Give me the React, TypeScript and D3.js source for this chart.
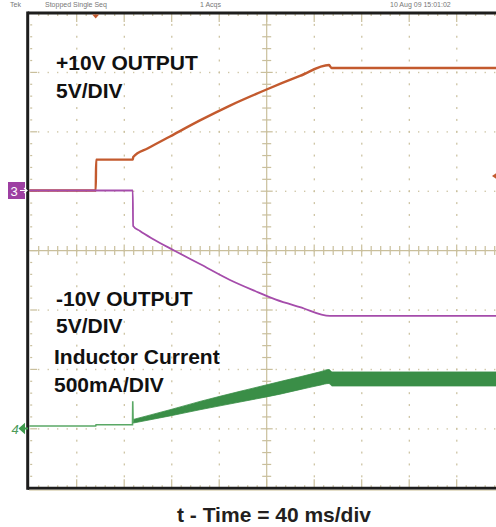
import React from "react";
import * as d3 from "d3";

// ---------- data ----------
// +10V output (orange), time in ms, volts
const posTime = [0, 56, 56.4, 87.2, 87.6, 100, 118.6, 143.8, 169.1, 199.4, 228, 252.5, 254.5, 400];
const posVolts = [0, 0, 2.6, 2.6, 2.82, 3.55, 4.55, 5.9, 7.15, 8.48, 9.64, 10.56, 10.31, 10.31];

// -10V output (purple)
const negTime = [0, 87.2, 87.5, 93.3, 103.4, 122.8, 143.8, 169.1, 190.2, 207.8, 228, 253.3, 255, 400];
const negVolts = [0, 0, -2.99, -3.41, -4.04, -5.09, -6.19, -7.53, -8.46, -9.18, -9.81, -10.56, -10.56, -10.56];

// Inductor current (green), mA — pre-start trace
const ilTime = [0, 56, 56.3, 87, 87.2, 87.5];
const ilMilliAmps = [21, 21, 31, 31, 230, 58];

// Inductor current ripple band: mean and peak-to-peak, mA
const bandTime = [87.6, 118.6, 143.8, 177.5, 211.2, 244.9, 252.5, 255, 400];
const bandMean = [61, 132, 193, 268, 342, 421, 438, 417, 417];
const bandRipple = [30, 52, 70, 90, 106, 112, 118, 118, 118];

const headerTexts = ["Tek", "Stopped Single Seq", "1 Acqs", "10 Aug 09 15:01:02"];
const headerX = [10, 45, 200, 390];

const W = 496;
const H = 527;

export default function App() {
  const left = 29.2;
  const divW = 47.5;
  const top = 13;
  const divH = 59.4;
  const right = left + 10 * divW;
  const bottom = top + 8 * divH;
  const cx = left + 5 * divW;
  const cy = top + 4 * divH;

  const x = d3.scaleLinear().domain([0, 400]).range([left, right]);
  const ground = 190.5;
  const yV = d3.scaleLinear().domain([0, 5]).range([ground, ground - divH]);
  const gnd4 = 428.5;
  const yI = d3.scaleLinear().domain([0, 500]).range([gnd4, gnd4 - divH]);

  const posPath = d3
    .line<number>()
    .x((t) => x(t))
    .y((_, i) => yV(posVolts[i]))
    .curve(d3.curveMonotoneX)(posTime);
  const negPath = d3
    .line<number>()
    .x((t) => x(t))
    .y((_, i) => yV(negVolts[i]))
    .curve(d3.curveMonotoneX)(negTime);
  const ilPath = d3
    .line<number>()
    .x((t) => x(t))
    .y((_, i) => yI(ilMilliAmps[i]))(ilTime);
  const bandPath = d3
    .area<number>()
    .x((t) => x(t))
    .y0((_, i) => yI(bandMean[i] - bandRipple[i] / 2))
    .y1((_, i) => yI(bandMean[i] + bandRipple[i] / 2))
    .curve(d3.curveMonotoneX)(bandTime);

  const grid = "#c9bf9c";
  const dots: JSX.Element[] = [];
  for (let i = 1; i < 10; i++) {
    if (i === 5) continue;
    const gx = left + i * divW;
    for (let j = 1; j < 40; j++) {
      const gy = top + (j * divH) / 5;
      dots.push(<rect key={`v${i}-${j}`} x={gx - 0.5} y={gy - 1} width={1.2} height={2} fill={grid} />);
    }
  }
  for (let j = 1; j < 8; j++) {
    if (j === 4) continue;
    const gy = top + j * divH;
    for (let i = 1; i < 50; i++) {
      const gx = left + (i * divW) / 5;
      dots.push(<rect key={`h${j}-${i}`} x={gx - 0.6} y={gy - 0.6} width={1.2} height={1.4} fill={grid} />);
    }
  }
  const ticks: JSX.Element[] = [];
  for (let i = 1; i < 50; i++) {
    const gx = left + (i * divW) / 5;
    const major = i % 5 === 0;
    ticks.push(<line key={`ch${i}`} x1={gx} x2={gx} y1={cy - (major ? 6 : 4.5)} y2={cy + (major ? 6 : 4.5)} stroke={grid} strokeWidth={1.2} />);
    ticks.push(<line key={`tt${i}`} x1={gx} x2={gx} y1={top + 1} y2={top + (major ? 9 : 3)} stroke={grid} strokeWidth={1.2} />);
    ticks.push(<line key={`bt${i}`} x1={gx} x2={gx} y1={bottom - 1} y2={bottom - (major ? 9 : 3)} stroke={grid} strokeWidth={1.2} />);
  }
  for (let j = 1; j < 40; j++) {
    const gy = top + (j * divH) / 5;
    const major = j % 5 === 0;
    ticks.push(<line key={`cv${j}`} x1={cx - (major ? 6 : 4.5)} x2={cx + (major ? 6 : 4.5)} y1={gy} y2={gy} stroke={grid} strokeWidth={1.2} />);
    ticks.push(<line key={`lt${j}`} x1={left + 1} x2={left + (major ? 8 : 3)} y1={gy} y2={gy} stroke={grid} strokeWidth={1.2} />);
  }

  const orange = "#c35a2e";
  const purple = "#a54cab";
  const green = "#3a8e47";
  const textStyle = { fontFamily: "'Liberation Sans', Arial, sans-serif", fontWeight: 700, fontSize: 21, fill: "#111" } as const;

  return (
    <svg width={W} height={H} style={{ position: "absolute", left: 0, top: 0, background: "#fff" }}>
      <defs>
        <clipPath id="plot">
          <rect x={left} y={top} width={W - left} height={bottom - top} />
        </clipPath>
      </defs>
      {headerTexts.map((t, i) => (
        <text key={t} x={headerX[i]} y={7} fontSize={7} fill="#777" fontFamily="'Liberation Sans', Arial, sans-serif">
          {t}
        </text>
      ))}
      {dots}
      <line x1={cx} x2={cx} y1={top} y2={bottom} stroke={grid} strokeWidth={1.2} />
      <line x1={left} x2={right} y1={cy} y2={cy} stroke={grid} strokeWidth={1.2} />
      {ticks}

      <g clipPath="url(#plot)">
        <path d={bandPath ?? ""} fill={green} stroke={green} strokeWidth={0.8} />
        <path d={ilPath ?? ""} fill="none" stroke="#5aa865" strokeWidth={1.6} />
        <path d={posPath ?? ""} fill="none" stroke={orange} strokeWidth={2.4} />
        <path d={negPath ?? ""} fill="none" stroke={purple} strokeWidth={1.8} />
      </g>

      {/* borders */}
      <line x1={left - 1.5} x2={W} y1={top} y2={top} stroke="#1d1d1d" strokeWidth={3} />
      <line x1={left - 1.5} x2={left - 1.5} y1={top - 1.5} y2={bottom + 1.5} stroke="#1d1d1d" strokeWidth={3} />
      <line x1={left - 1.5} x2={W} y1={bottom} y2={bottom} stroke="#1d1d1d" strokeWidth={3} />
      <line x1={left} x2={W} y1={bottom + 2} y2={bottom + 2} stroke="#d8cfb0" strokeWidth={1} />

      {/* trigger position marker */}
      <path d={`M${x(56) - 3.5},${top + 1.5} L${x(56) + 3.5},${top + 1.5} L${x(56)},${top + 5.5} Z`} fill={orange} />
      {/* trigger level marker (right) */}
      <path d={`M${W - 4},${176} L${W + 2},${172} L${W + 2},${180} Z`} fill={orange} />

      {/* channel 3 marker */}
      <rect x={8} y={ground - 8.5} width={17} height={17} fill="#9d3fa2" />
      <text x={14} y={ground + 5} fontSize={13} fill="#fff" fontFamily="'Liberation Sans', Arial, sans-serif" textAnchor="middle">
        3
      </text>
      <path d={`M${20},${ground} L${26},${ground} M${24},${ground - 2.5} L${27},${ground} L${24},${ground + 2.5}`} stroke="#fff" strokeWidth={1.2} fill="none" />

      {/* channel 4 marker */}
      <text x={15} y={gnd4 + 5} fontSize={13} fill="#4d9b58" fontStyle="italic" fontFamily="'Liberation Sans', Arial, sans-serif" textAnchor="middle">
        4
      </text>
      <path d={`M${20},${gnd4} L${24},${gnd4 - 3.5} L${24},${gnd4 + 3.5} Z M${23},${gnd4} L${28},${gnd4}`} stroke="#3e9a4c" fill="#3e9a4c" strokeWidth={2} />

      {/* annotations */}
      <text x={56} y={70} style={textStyle}>+10V OUTPUT</text>
      <text x={56} y={98} style={textStyle}>5V/DIV</text>
      <text x={56} y={306} style={textStyle}>-10V OUTPUT</text>
      <text x={56} y={333} style={textStyle}>5V/DIV</text>
      <text x={54} y={364} style={textStyle}>Inductor Current</text>
      <text x={54} y={392} style={textStyle}>500mA/DIV</text>

      <text x={274} y={522} textAnchor="middle" style={{ ...textStyle, fill: "#231f20" }}>
        t - Time = 40 ms/div
      </text>
    </svg>
  );
}
